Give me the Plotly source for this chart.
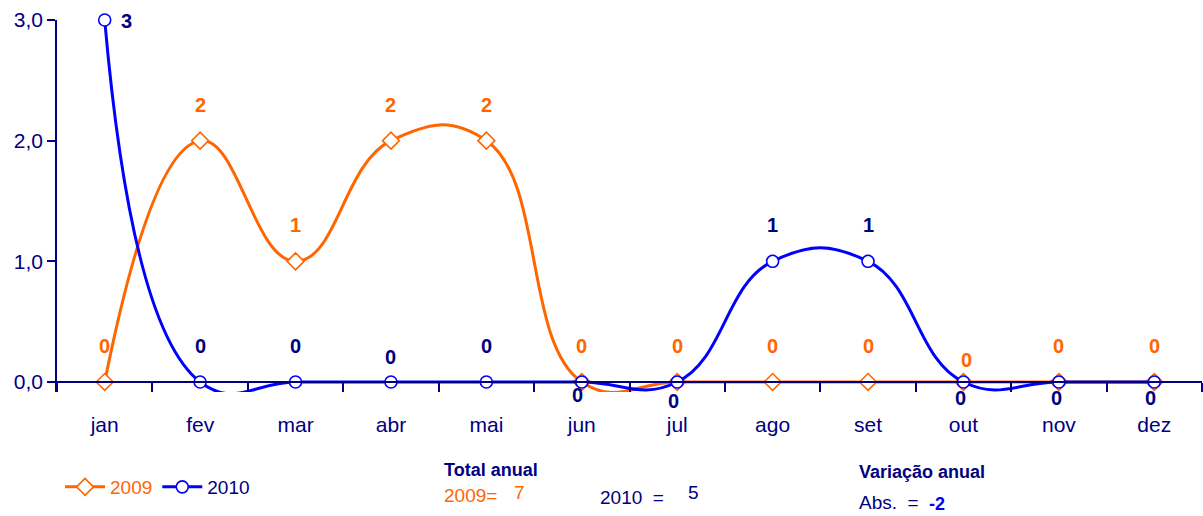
import plotly.graph_objects as go

months = ["jan", "fev", "mar", "abr", "mai", "jun", "jul", "ago", "set", "out", "nov", "dez"]
s2009 = [0, 2, 1, 2, 2, 0, 0, 0, 0, 0, 0, 0]
s2010 = [3, 0, 0, 0, 0, 0, 0, 1, 1, 0, 0, 0]
total_2009 = 7
total_2010 = 5
variacao_abs = -2

# label offsets (style): (xshift, yshift) in px
off2009 = [(0, 36), (0, 36), (0, 36), (0, 36), (0, 36), (0, 36), (0, 36), (0, 36), (0, 36), (3, 22), (0, 36), (0, 36)]
off2010 = [(22, -1), (0, 36), (0, 36), (0, 25), (0, 36), (-4, -13), (-4, -19), (0, 36), (0, 36), (-3, -16), (-2, -16), (-4, -16)]

ORANGE = "#FF6600"
BLUE = "#0000FF"
NAVY = "#000080"
FONT = "Liberation Sans Narrow, Arial Narrow, Liberation Sans, Arial, sans-serif"

YMIN, YMAX = -0.083, 3.0

fig = go.Figure()
fig.add_trace(go.Scatter(
    x=months, y=s2009, name="<span style='color:%s'>2009</span>" % ORANGE,
    mode="lines+markers", line=dict(color=ORANGE, width=3, shape="spline", smoothing=1.3),
    marker=dict(symbol="diamond", size=13, color="white", line=dict(color=ORANGE, width=1.6)),
    cliponaxis=False,
))
fig.add_trace(go.Scatter(
    x=months, y=s2010, name="<span style='color:%s'>2010</span>" % NAVY,
    mode="lines+markers", line=dict(color=BLUE, width=3, shape="spline", smoothing=1.3),
    marker=dict(symbol="circle", size=12, color="white", line=dict(color=BLUE, width=1.6)),
    cliponaxis=False,
))

for m, v, (dx, dy) in zip(months, s2009, off2009):
    fig.add_annotation(x=m, y=v, text="<b>%d</b>" % v, showarrow=False, xshift=dx, yshift=dy,
                       font=dict(color=ORANGE, size=20, family=FONT))
for m, v, (dx, dy) in zip(months, s2010, off2010):
    fig.add_annotation(x=m, y=v, text="<b>%d</b>" % v, showarrow=False, xshift=dx, yshift=dy,
                       font=dict(color=NAVY, size=20, family=FONT))

W, H = 1203, 516
L, R, T, B = 57, 1, 20, 124
pw, ph = W - L - R, H - T - B
def px(xp):
    return (xp - L) / pw
def py(yp):
    return (H - B - yp) / ph

def ptext(x, y, text, color, size=19, bold=False):
    fig.add_annotation(xref="paper", yref="paper", x=px(x), y=py(y), xanchor="left", yanchor="middle",
                       text=("<b>%s</b>" % text) if bold else text, showarrow=False,
                       font=dict(color=color, size=size, family=FONT))

ptext(442, 470, "Total anual", NAVY, 18, True)
ptext(442, 495, "2009=", ORANGE, 19)
ptext(512, 492, str(total_2009), ORANGE, 19)
ptext(598, 497, "2010  =", NAVY, 19)
ptext(686, 492, str(total_2010), NAVY, 19)
ptext(857, 472, "Variação anual", NAVY, 18, True)
ptext(857, 502, "Abs.  =", NAVY, 19)
ptext(927, 504, str(variacao_abs), BLUE, 18, True)

zero_pos = (0 - YMIN) / (YMAX - YMIN)

fig.update_layout(
    width=W, height=H,
    margin=dict(l=L, r=R, t=T, b=B),
    paper_bgcolor="white", plot_bgcolor="white",
    separators=",.",
    font=dict(family=FONT, color=NAVY, size=19),
    showlegend=True,
    legend=dict(orientation="h", x=px(60), y=py(487), xanchor="left", yanchor="middle",
                font=dict(size=19, family=FONT), itemwidth=40, tracegroupgap=0,
                bgcolor="rgba(0,0,0,0)"),
    xaxis=dict(
        type="category", range=[-0.5, 11.5], anchor="free", position=zero_pos,
        showline=True, linecolor=NAVY, linewidth=1.5,
        ticks="outside", tickson="boundaries", ticklen=9, tickcolor=NAVY, tickwidth=1.5,
        ticklabelstandoff=24, showgrid=False, zeroline=False,
        tickfont=dict(size=21, color=NAVY, family=FONT),
    ),
    yaxis=dict(
        range=[YMIN, YMAX], tickvals=[0, 1, 2, 3], tickformat=".1f",
        showline=True, linecolor=NAVY, linewidth=1.5,
        ticks="outside", ticklen=8, tickcolor=NAVY, tickwidth=1.5,
        showgrid=False, zeroline=False,
        tickfont=dict(size=21, color=NAVY, family=FONT),
    ),
)

fig.write_html("out.html", config={"displayModeBar": False},
               post_script="document.body.style.margin='0';document.body.style.padding='0';")
